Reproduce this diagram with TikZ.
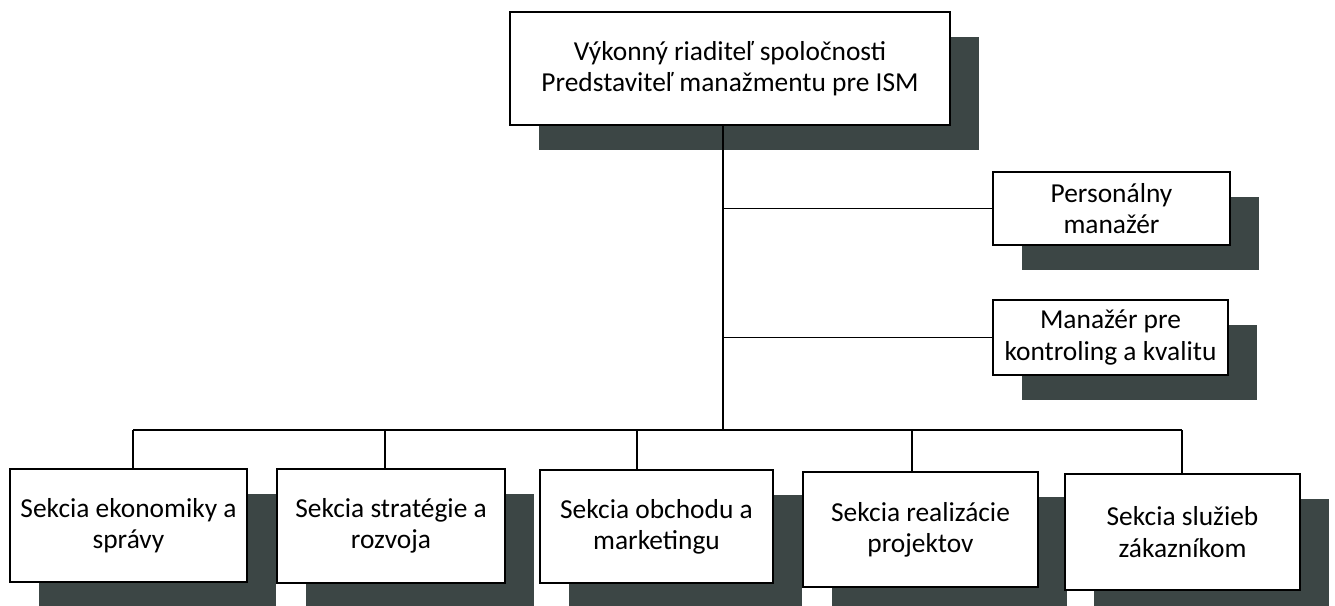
\documentclass[tikz,border=0pt]{standalone}
\usepackage{fontspec}
\setmainfont{Carlito}
\usetikzlibrary{shadows}

\definecolor{shadowgrey}{HTML}{3C4645}

\tikzset{
    unit/.style={draw=black, line width=1pt, fill=white, align=center,
        font=\fontsize{15.6}{17.8}\selectfont,
        drop shadow={shadow xshift=0.58cm, shadow yshift=-0.5cm, fill=shadowgrey, opacity=1}},
    link/.style={line width=0.9pt}
}

\begin{document}
\begin{tikzpicture}[x=0.02cm, y=-0.02cm]

    \useasboundingbox (0,0) rectangle (1335,605);

    %% Top management
    \node[unit, minimum width=8.8cm, minimum height=2.26cm] (ceo) at (730,68.5)
        {Výkonný riaditeľ spoločnosti\\Predstaviteľ manažmentu pre ISM};

    % Staff units on the right
    \node[unit, minimum width=4.74cm, minimum height=1.46cm] (pers) at (1111.5,208.5)
        {Personálny\\manažér};
    \node[unit, minimum width=4.7cm, minimum height=1.5cm] (kval) at (1110.5,337.5)
        {Manažér pre\\kontroling a kvalitu};

    % Sections
    \node[unit, minimum width=4.74cm, minimum height=2.26cm] (ekon) at (128.5,525.5)
        {Sekcia ekonomiky a\\správy};
    \node[unit, minimum width=4.56cm, minimum height=2.28cm] (strat) at (391,526)
        {Sekcia stratégie a\\rozvoja};
    \node[unit, minimum width=4.66cm, minimum height=2.26cm] (obch) at (656.5,526.5)
        {Sekcia obchodu a\\marketingu};
    \node[unit, minimum width=4.7cm, minimum height=2.3cm] (real) at (920.5,529.5)
        {Sekcia realizácie\\projektov};
    \node[unit, minimum width=4.7cm, minimum height=2.32cm] (sluz) at (1182.5,532)
        {Sekcia služieb\\zákazníkom};

    %% Connectors
    \coordinate (spine) at (723,430);
    \coordinate (j1) at (133,430);
    \coordinate (j2) at (385,430);
    \coordinate (j3) at (637,430);
    \coordinate (j4) at (912,430);
    \coordinate (j5) at (1182,430);

    \draw[link] (ceo.south -| spine) -- (spine);
    \draw[link] (pers.west -| spine) -- (pers.west);
    \draw[link] (kval.west -| spine) -- (kval.west);

    % Bus to the sections
    \draw[link] (j1) -- (j5);
    \draw[link] (j1) -- (j1 |- ekon.north);
    \draw[link] (j2) -- (j2 |- strat.north);
    \draw[link] (j3) -- (j3 |- obch.north);
    \draw[link] (j4) -- (j4 |- real.north);
    \draw[link] (j5) -- (j5 |- sluz.north);

\end{tikzpicture}
\end{document}
